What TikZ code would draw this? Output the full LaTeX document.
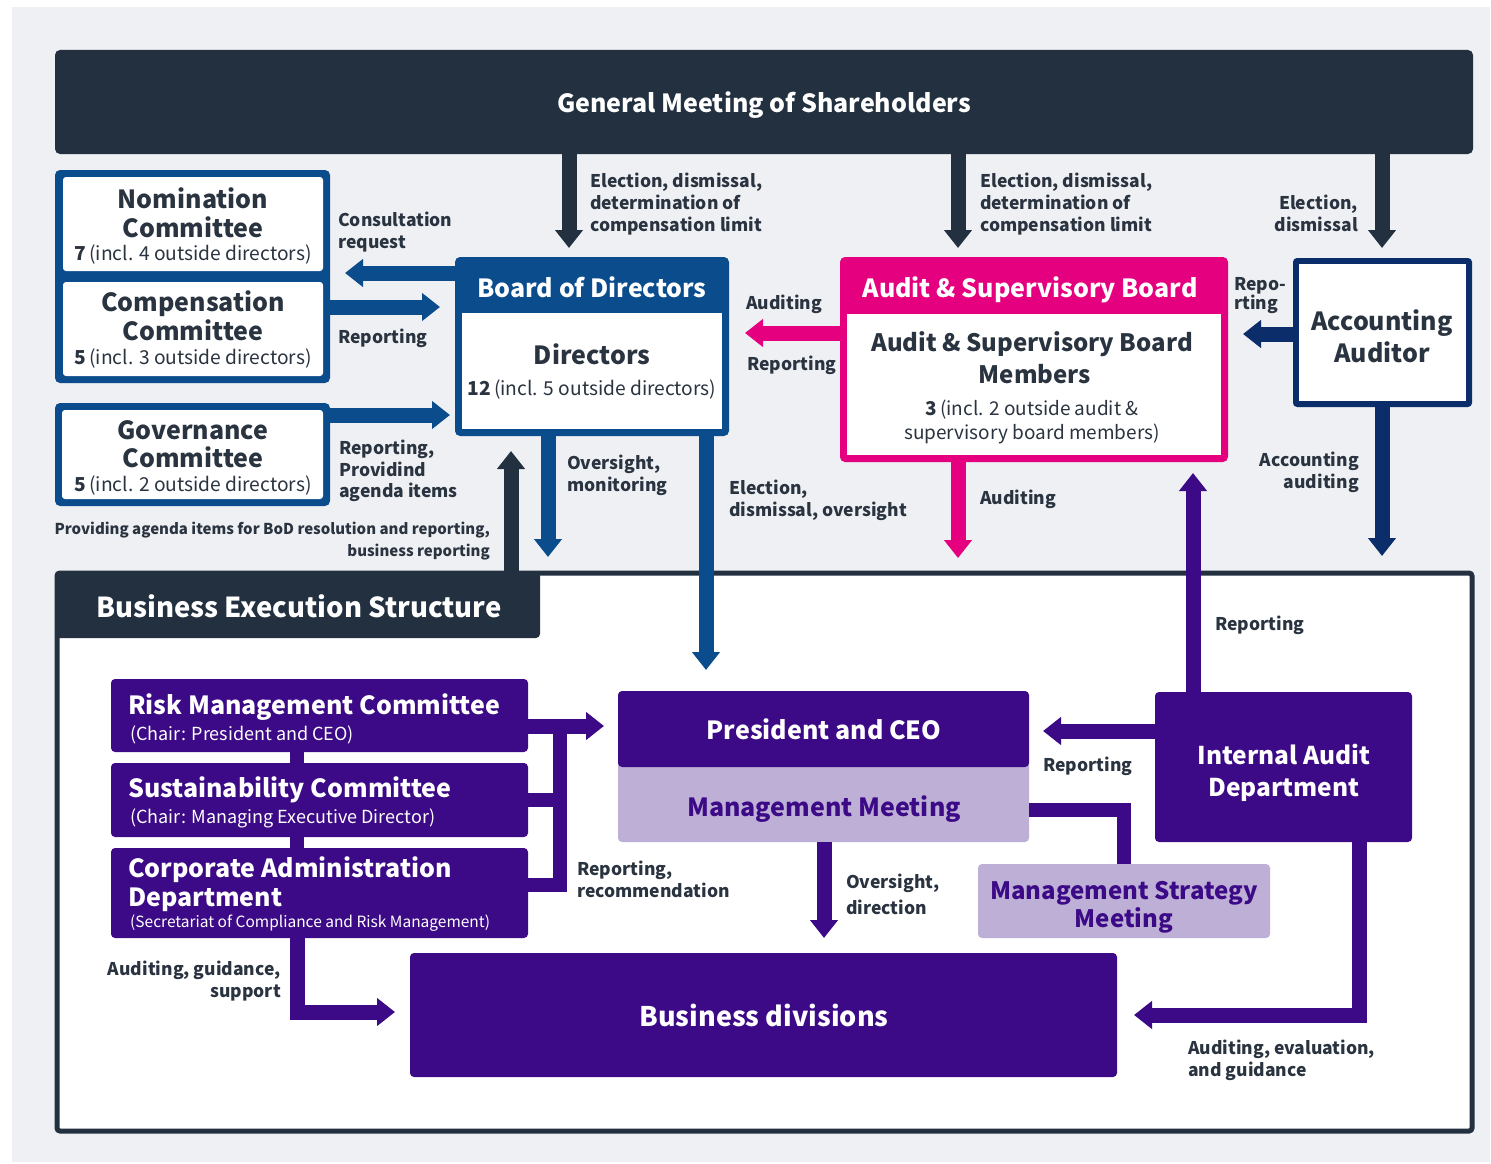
\documentclass[tikz,border=0pt]{standalone}
\usepackage{fontspec}
\setmainfont{Noto Sans CJK JP}
\usetikzlibrary{arrows.meta}
\definecolor{navy}{HTML}{223040}
\definecolor{bblue}{HTML}{0B4C8D}
\definecolor{mag}{HTML}{E5007F}
\definecolor{aanavy}{HTML}{0B2D6A}
\definecolor{purp}{HTML}{3C0A86}
\definecolor{lpurp}{HTML}{BEAFD6}
\definecolor{txt}{HTML}{2A3340}
\definecolor{bgc}{HTML}{EEF0F3}
\begin{document}
\begin{tikzpicture}[x=1pt,y=-1pt,
 box/.style 2 args={rectangle, inner sep=0pt, outer sep=0pt, anchor=north west, minimum width=#1pt, minimum height=#2pt},
 arr/.style={line width=15pt, -{Triangle[width=27pt,length=18pt]}},
 bar/.style={line width=14pt},
 lbl/.style={text=txt, font=\bfseries\fontsize{17.5}{21.5}\selectfont, inner sep=0pt, align=left, anchor=north west},
 lblr/.style={lbl, align=right, anchor=north east},
 ttl/.style={font=\bfseries\fontsize{25}{30}\selectfont, inner sep=0pt, anchor=base},
 ttll/.style={ttl, anchor=base west},
 sub/.style={font=\fontsize{19.2}{24}\selectfont, inner sep=0pt, text=txt, anchor=base},
]
\fill[white] (0,0) rectangle (1491,1164);
\fill[bgc] (12,7) rectangle (1490,1162);
\useasboundingbox (0,0) rectangle (1491,1164);

% ---------- General meeting ----------
\node[box={1418}{104}, fill=navy, rounded corners=5pt] (gms) at (55,50) {};
\node[ttl, text=white] (gmsT) at (764,112) {General Meeting of Shareholders};

% ---------- Committees ----------
\node[box={275}{213}, fill=bblue, rounded corners=5pt] (grp) at (55,170) {};
\node[box={260}{94}, fill=white, rounded corners=3pt] (nom) at (63,177) {};
\node[box={260}{94}, fill=white, rounded corners=3pt] (comp) at (63,282) {};
\node[box={275}{103}, fill=bblue, rounded corners=5pt] (gov) at (55,403) {};
\node[box={261}{89}, fill=white, rounded corners=3pt] (govin) at (62,410) {};
\node[ttl, text=txt] (nomA) at (193,208) {Nomination};
\node[ttl, text=txt] (nomB) at (193,237) {Committee};
\node[sub] (nomC) at (193,260) {\textbf{7}\,(incl. 4 outside directors)};
\node[ttl, text=txt] (compA) at (193,311) {Compensation};
\node[ttl, text=txt] (compB) at (193,340) {Committee};
\node[sub] (compC) at (193,364) {\textbf{5}\,(incl. 3 outside directors)};
\node[ttl, text=txt] (govA) at (193,439) {Governance};
\node[ttl, text=txt] (govB) at (193,467) {Committee};
\node[sub] (govC) at (193,491) {\textbf{5}\,(incl. 2 outside directors)};

% ---------- Board of Directors ----------
\node[box={274}{179}, fill=bblue, rounded corners=5pt] (bod) at (455,257) {};
\node[box={260}{116}, fill=white] (bodin) at (462,313) {};
\node[ttl, text=white] (bodT) at (592,297) {Board of Directors};
\node[ttl, text=txt] (bodA) at (592,364) {Directors};
\node[sub] (bodB) at (592,395) {\textbf{12}\,(incl. 5 outside directors)};

% ---------- Audit & Supervisory Board ----------
\node[box={388}{205}, fill=mag, rounded corners=5pt] (asb) at (840,257) {};
\node[box={374}{141}, fill=white] (asbin) at (847,314) {};
\node[ttl, text=white] (asbT) at (1030,297) {Audit \& Supervisory Board};
\node[ttl, text=txt, font=\bfseries\fontsize{24}{30}\selectfont] (asbA) at (1032,351) {Audit \& Supervisory Board};
\node[ttl, text=txt, font=\bfseries\fontsize{24}{30}\selectfont] (asbB) at (1035,383) {Members};
\node[sub, font=\fontsize{19}{24}\selectfont] (asbC) at (1032,415) {\textbf{3}\,(incl. 2 outside audit \&};
\node[sub, font=\fontsize{19}{24}\selectfont] (asbD) at (1032,439) {supervisory board members)};

% ---------- Accounting Auditor ----------
\node[box={179}{149}, fill=aanavy, rounded corners=4pt] (aa) at (1293,258) {};
\node[box={167}{137}, fill=white] (aain) at (1299,264) {};
\node[ttl, text=txt] (aaA) at (1382,330) {Accounting};
\node[ttl, text=txt] (aaB) at (1382,362) {Auditor};

% ---------- Business Execution Structure ----------
\node[box={1415}{558}, fill=white, draw=navy, line width=5pt, rounded corners=3pt] (bes) at (57,573) {};
\node[box={485}{67}, fill=navy, rounded corners=4pt] (tab) at (55,571) {};
\node[ttll, text=white, font=\bfseries\fontsize{27.5}{30}\selectfont] (tabT) at (96,617) {Business Execution Structure};

% purple boxes
\node[box={417}{73}, fill=purp, rounded corners=4pt] (risk) at (111,679) {};
\node[box={417}{74}, fill=purp, rounded corners=4pt] (sus) at (111,763) {};
\node[box={417}{90}, fill=purp, rounded corners=4pt] (cad) at (111,848) {};
\node[ttll, text=white] (riskA) at (128,714) {Risk Management Committee};
\node[sub, anchor=base west, text=white, font=\fontsize{18}{20}\selectfont] (riskB) at (130,740) {(Chair: President and CEO)};
\node[ttll, text=white] (susA) at (128,797) {Sustainability Committee};
\node[sub, anchor=base west, text=white, font=\fontsize{18}{20}\selectfont] (susB) at (130,823) {(Chair: Managing Executive Director)};
\node[ttll, text=white] (cadA) at (128,877) {Corporate Administration};
\node[ttll, text=white] (cadB) at (128,906) {Department};
\node[sub, anchor=base west, text=white, font=\fontsize{15.5}{20}\selectfont] (cadC) at (130,927) {(Secretariat of Compliance and Risk Management)};

\node[box={411}{82}, fill=lpurp, rounded corners=4pt] (mm) at (618,760) {};
\node[box={411}{76}, fill=purp, rounded corners=4pt] (pres) at (618,691) {};
\node[ttl, text=white] (presT) at (824,739) {President and CEO};
\node[ttl, text=purp] (mmT) at (824,816) {Management Meeting};
\node[box={257}{150}, fill=purp, rounded corners=4pt] (iad) at (1155,692) {};
\node[ttl, text=white, font=\bfseries\fontsize{24.5}{30}\selectfont] (iadA) at (1284,764) {Internal Audit};
\node[ttl, text=white, font=\bfseries\fontsize{24.5}{30}\selectfont] (iadB) at (1284,796) {Department};
\node[box={292}{74}, fill=lpurp, rounded corners=4pt] (msm) at (978,864) {};
\node[ttl, text=purp, font=\bfseries\fontsize{24}{30}\selectfont] (msmA) at (1124,899) {Management Strategy};
\node[ttl, text=purp, font=\bfseries\fontsize{24}{30}\selectfont] (msmB) at (1124,927) {Meeting};
\node[box={707}{124}, fill=purp, rounded corners=4pt] (bd) at (410,953) {};
\node[ttl, text=white, font=\bfseries\fontsize{27}{30}\selectfont] (bdT) at (764,1026) {Business divisions};

% ---------- coordinates ----------
\coordinate (t1) at (569,248);
\coordinate (t2) at (958,248);
\coordinate (t3) at (1382,248);
\coordinate (cq) at (345,273);
\coordinate (rp) at (440,307);
\coordinate (gp) at (450,415);
\coordinate (ma) at (745,333);
\coordinate (ar) at (1243,334);
\coordinate (om) at (548,557);
\coordinate (pa) at (511,451);
\coordinate (ed) at (706,670);
\coordinate (au) at (958,558);
\coordinate (ac) at (1382,556);
\coordinate (ir) at (1193,473);
\coordinate (rr) at (1043,731);
\coordinate (br) at (604,726);
\coordinate (od) at (824,938);
\coordinate (cb1) at (297,1012);
\coordinate (cb) at (395,1012);
\coordinate (ib1) at (1359,1015);
\coordinate (ib) at (1134,1015);
\coordinate (mc) at (1124,810);
\coordinate (vb1) at (560,719);
\coordinate (vb2) at (560,892);
\coordinate (hb1) at (567,800);
\coordinate (hb2) at (567,885);

% ---------- connectors ----------
\draw[arr, navy] (gms.south -| t1) -- (t1);
\draw[arr, navy] (gms.south -| t2) -- (t2);
\draw[arr, navy] (gms.south -| t3) -- (t3);

\draw[arr, bblue] (bod.west |- cq) -- (cq);
\draw[arr, bblue] (grp.east |- rp) -- (rp);
\draw[arr, bblue] (gov.east |- gp) -- (gp);
\draw[arr, mag] (asb.west |- ma) -- (ma);
\draw[arr, aanavy] (aa.west |- ar) -- (ar);

\draw[arr, bblue] (bod.south -| om) -- (om);
\draw[arr, navy] (tab.north -| pa) -- (pa);
\draw[arr, bblue] (bod.south -| ed) -- (ed);
\draw[arr, mag] (asb.south -| au) -- (au);
\draw[arr, aanavy] (aa.south -| ac) -- (ac);
\draw[arr, purp] (iad.north -| ir) -- (ir);

% lower connectors
\draw[bar, purp] (risk.south -| cb1) -- (sus.north -| cb1);
\draw[bar, purp] (sus.south -| cb1) -- (cad.north -| cb1);
\draw[arr, purp] (risk.east |- br) -- (br);
\draw[bar, purp] (vb1) -- (vb2);
\draw[bar, purp] (sus.east |- hb1) -- (hb1);
\draw[bar, purp] (cad.east |- hb2) -- (hb2);
\draw[arr, purp] (iad.west |- rr) -- (rr);
\draw[arr, purp] (mm.south -| od) -- (od);
\draw[bar, purp] (mm.east |- mc) -- (mc) -- (msm.north -| mc);
\draw[arr, purp] (cad.south -| cb1) -- (cb1) -- (cb);
\draw[arr, purp] (iad.south -| ib1) -- (ib1) -- (ib);

% ---------- labels ----------
\node[lbl, font=\bfseries\fontsize{17.5}{22}\selectfont] (l1) at (590,173) {Election, dismissal,\\determination of\\compensation limit};
\node[lbl, font=\bfseries\fontsize{17.5}{22}\selectfont] (l2) at (980,173) {Election, dismissal,\\determination of\\compensation limit};
\node[lblr, font=\bfseries\fontsize{17.5}{22}\selectfont] (l3) at (1358,195) {Election,\\dismissal};
\node[lbl] (l4) at (338,212) {Consultation\\request};
\node[lbl] (l5) at (338,329) {Reporting};
\node[lbl] (l6) at (339,440) {Reporting,\\Providind\\agenda items};
\node[lblr, font=\bfseries\fontsize{15}{22}\selectfont] (l7) at (490,522) {Providing agenda items for BoD resolution and reporting,\\business reporting};
\node[lbl] (l8) at (567,455) {Oversight,\\monitoring};
\node[lbl, font=\bfseries\fontsize{17.5}{22}\selectfont] (l9) at (729,480) {Election,\\dismissal, oversight};
\node[lbl] (l10) at (746,295) {Auditing};
\node[lbl] (l11) at (747,356) {Reporting};
\node[lbl] (l12) at (980,490) {Auditing};
\node[lbl, font=\bfseries\fontsize{17.5}{19}\selectfont] (l13) at (1234,277) {Repo-\\rting};
\node[lblr, font=\bfseries\fontsize{17.5}{22}\selectfont] (l14) at (1359,452) {Accounting\\auditing};
\node[lbl] (l15) at (1215,616) {Reporting};
\node[lbl] (l16) at (1043,757) {Reporting};
\node[lbl] (l17) at (577,861) {Reporting,\\recommendation};
\node[lbl, font=\bfseries\fontsize{17.5}{26}\selectfont] (l18) at (846,874) {Oversight,\\direction};
\node[lblr, font=\bfseries\fontsize{17.5}{22}\selectfont] (l19) at (281,961) {Auditing, guidance,\\support};
\node[lbl, font=\bfseries\fontsize{17.5}{22}\selectfont] (l20) at (1188,1040) {Auditing, evaluation,\\and guidance};
\end{tikzpicture}
\end{document}
